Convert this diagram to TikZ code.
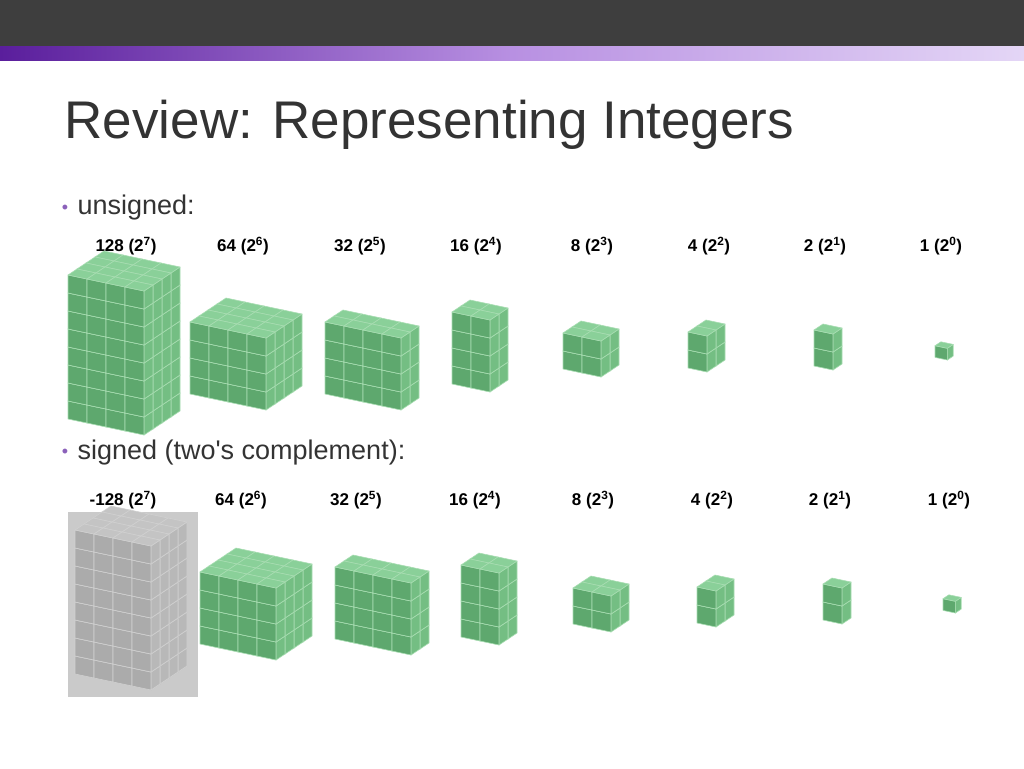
\documentclass[tikz,border=0pt]{standalone}
\usepackage{fontspec}
\setmainfont{Liberation Sans}
\begin{document}
\begin{tikzpicture}[x=1pt,y=1pt]
\definecolor{hdr}{HTML}{3E3E3E}
\definecolor{pL}{HTML}{5A1E9C}
\definecolor{pM}{HTML}{B890E2}
\definecolor{pR}{HTML}{E4D6F6}
\definecolor{txt}{HTML}{333333}
\definecolor{gtop}{HTML}{8AD099}
\definecolor{gfront}{HTML}{5EA86E}
\definecolor{gside}{HTML}{74BE83}
\definecolor{gedge}{HTML}{A8DDB2}
\definecolor{ytop}{HTML}{C4C4C4}
\definecolor{yfront}{HTML}{ABABAB}
\definecolor{yside}{HTML}{B8B8B8}
\definecolor{yedge}{HTML}{D0D0D0}
\useasboundingbox (0,0) rectangle (1024,-768);
\fill[hdr] (0,0) rectangle (1024,-47);
\shade[left color=pL,right color=pM] (0,-47) rectangle (512,-60);
\shade[left color=pM,right color=pR] (512,-47) rectangle (1024,-60);
\tikzset{lbl/.style={font=\bfseries\fontsize{17}{20}\selectfont,text=black},
 bul/.style={font=\fontsize{27}{32}\selectfont,text=txt,anchor=west}}
\node[anchor=base west,font=\fontsize{53}{60}\selectfont,text=txt] (title) at (61,-138) {Review: Representing Integers};
\node[text=pL!70,font=\fontsize{18}{20}\selectfont] (b1) at (65,-209) {•};
\node[bul] (u) at (74,-208) {unsigned:};
\node[text=pL!70,font=\fontsize{18}{20}\selectfont] (b2) at (65,-453) {•};
\node[bul] (s) at (74,-453) {signed (two\textquotesingle s complement):};
\foreach \t/\e/\x in {128/7/126,64/6/243,32/5/360,16/4/476,8/3/592,4/2/709,2/1/825,1/0/941}{
 \node[lbl] (ul\t) at (\x,-246) {\t{} (2\textsuperscript{\e})};}
\foreach \t/\e/\x in {128/7/123,64/6/241,32/5/356,16/4/475,8/3/593,4/2/712,2/1/830,1/0/949}{
 \node[lbl] (sl\t) at (\x,-500) {\ifnum\t=128 -\fi\t{} (2\textsuperscript{\e})};}
\newcommand\blockat[9]{% left bottom U V W top front side edge
 \begin{scope}[shift={(#1,-#2+4*#3)},x={(19pt,-4pt)},y={(9pt,6pt)},z={(0pt,18pt)},draw=#9,line width=0.6pt,line join=round]
 \foreach \i in {1,...,#4}{
  \pgfmathtruncatemacro\v{#4-\i}
  \foreach \u in {1,...,#3}{
   \foreach \w in {1,...,#5}{
    \filldraw[fill=#8] (\u,\v,\w-1)--(\u,\v+1,\w-1)--(\u,\v+1,\w)--(\u,\v,\w)--cycle;
    \filldraw[fill=#7] (\u-1,\v,\w-1)--(\u,\v,\w-1)--(\u,\v,\w)--(\u-1,\v,\w)--cycle;
    \filldraw[fill=#6] (\u-1,\v,\w)--(\u,\v,\w)--(\u,\v+1,\w)--(\u-1,\v+1,\w)--cycle;
 }}}
 \end{scope}}
\newcommand\gb[5]{\blockat{#1}{#2}{#3}{#4}{#5}{gtop}{gfront}{gside}{gedge}}
% unsigned
\gb{68}{435}{4}{4}{8}
\gb{190}{410}{4}{4}{4}
\gb{325}{410}{4}{2}{4}
\gb{452}{392}{2}{2}{4}
\gb{563}{377}{2}{2}{2}
\gb{688}{372}{1}{2}{2}
\gb{814}{370}{1}{1}{2}
\begin{scope}[shift={(935,-360)},scale=0.65,transform shape]\gb{0}{0}{1}{1}{1}\end{scope}
% signed
\fill[ytop!90] (68,-512) rectangle (198,-697);
\blockat{75}{690}{4}{4}{8}{ytop}{yfront}{yside}{yedge}
\gb{200}{660}{4}{4}{4}
\gb{335}{655}{4}{2}{4}
\gb{461}{645}{2}{2}{4}
\gb{573}{632}{2}{2}{2}
\gb{697}{627}{1}{2}{2}
\gb{823}{624}{1}{1}{2}
\begin{scope}[shift={(943,-613)},scale=0.65,transform shape]\gb{0}{0}{1}{1}{1}\end{scope}
\end{tikzpicture}
\end{document}
